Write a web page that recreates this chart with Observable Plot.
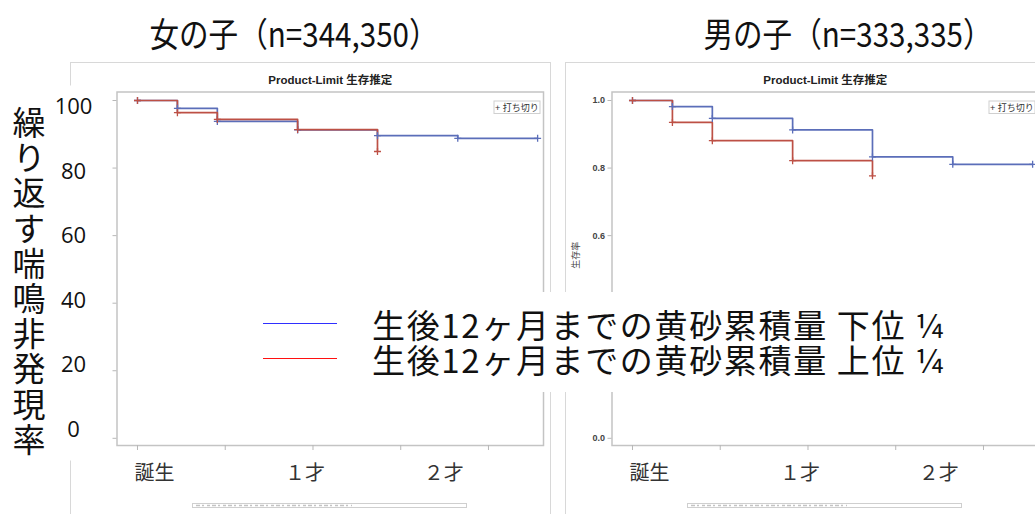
<!DOCTYPE html>
<html><head><meta charset="utf-8">
<script src="https://cdn.jsdelivr.net/npm/d3@7"></script>
<script src="https://cdn.jsdelivr.net/npm/@observablehq/plot@0.6"></script>
<style>
body{margin:0;background:#fff;}
#root{position:relative;width:1035px;height:514px;overflow:hidden;background:#fff;font-family:"Noto Sans CJK JP",sans-serif;}
#root > *{position:absolute;}
.title{font-size:34px;line-height:34px;color:#111;text-align:center;white-space:nowrap;transform:scaleX(0.87);transform-origin:center;}
.legtext{position:absolute;display:block;height:34px;font-size:33px;line-height:34px;color:#111;white-space:nowrap;}
.ytitle{writing-mode:vertical-rl;font-size:33px;line-height:40px;width:40px;letter-spacing:2.2px;color:#111;white-space:nowrap;}
</style></head><body><div id="root"></div>
<script>
// ---- data ----
const days = [0, 91, 182, 365, 547, 730, 912];
const girlsLow  = [1.000, 0.977, 0.938, 0.913, 0.896, 0.888, 0.888];
const girlsHigh = [1.000, 0.964, 0.944, 0.914, 0.849];
const boysLow   = [1.000, 0.982, 0.947, 0.913, 0.833, 0.811, 0.811];
const boysHigh  = [1.000, 0.935, 0.881, 0.822, 0.777];
const panelTitles = ["女の子（n=344,350）", "男の子（n=333,335）"];
const seriesNames = ["生後12ヶ月までの黄砂累積量 下位 ¼", "生後12ヶ月までの黄砂累積量 上位 ¼"];
const seriesKeys = ["low", "high"];
const sasTitle = "Product-Limit 生存推定";
const sasYLabel = "生存率";
const censorLabel = "+ 打ち切り";
const xTickDays = [0, 200, 400, 600, 800];
const sasYTicks = [0, 0.2, 0.4, 0.6, 0.8, 1.0];
const sasYLabelsVisible = [0, 0.6, 0.8, 1.0];   // the others are hidden under the slide overlays
const ageLabels = ["誕生", "１才", "２才"];
const ageLabelDays = [39, 382, 698];
const pctTicks = [0, 20, 40, 60, 80, 100];
const yTitle = "繰り返す喘鳴非発現率";

const sasColors = ["#5b6eb9", "#bd5045"];
const legendColors = ["#2f2fff", "#ff1010"];

const root = document.getElementById("root");

const plusSymbol = {
  draw(ctx) {
    const r = 3.5;
    ctx.moveTo(-r, 0); ctx.lineTo(r, 0);
    ctx.moveTo(0, -r); ctx.lineTo(0, r);
  }
};

function sasPanel(low, high, showLabels) {
  const rows = [];
  low.forEach((v, i) => rows.push({group: "low", t: days[i], s: v}));
  high.forEach((v, i) => rows.push({group: "high", t: days[i], s: v}));
  const W = 560, H = 514, mL = 116.5, mR = 17, mT = 91.5, mB = 69;
  const marks = [
    Plot.frame({stroke: "#c4c4c4", strokeWidth: 1.5}),
    Plot.axisX({ticks: xTickDays, tickSize: 5, tickFormat: () => "", stroke: "#b8b8b8", label: null}),
    Plot.axisY({ticks: sasYTicks, tickSize: 4, tickFormat: () => "", stroke: "#b8b8b8", label: null}),
    Plot.line(rows, {x: "t", y: "s", z: "group", stroke: "group", curve: "step-after", strokeWidth: 1.7}),
    Plot.dot(rows, {x: "t", y: "s", symbol: plusSymbol, stroke: "group", fill: "none", strokeWidth: 1.3}),
    Plot.text([sasTitle], {frameAnchor: "top", dy: -11.5, lineAnchor: "middle", fontSize: 11.5, fontWeight: "bold", fill: "#222"}),
    Plot.text(ageLabels, {x: (d, i) => ageLabelDays[i], text: d => d, frameAnchor: "bottom", dy: 28.5,
      lineAnchor: "middle", fontSize: 20, fill: "#333", fontFamily: "'Noto Sans CJK JP'"})
  ];
  if (showLabels) {
    marks.push(
      Plot.text(sasYLabelsVisible, {y: d => d, text: d => d3.format(".1f")(d), frameAnchor: "left", dx: -7,
        textAnchor: "end", fontSize: 9, fontWeight: "bold", fill: "#444"}),
      Plot.text([sasYLabel], {frameAnchor: "left", dx: -36, rotate: -90, fontSize: 9, fill: "#444"})
    );
  }
  const plot = Plot.plot({
    width: W, height: H,
    marginLeft: mL, marginRight: mR, marginTop: mT, marginBottom: mB,
    style: {background: "transparent", fontFamily: "'Liberation Sans','Noto Sans CJK JP',sans-serif"},
    x: {domain: [-46.7, 925.4], axis: null},
    y: {domain: [-0.0213, 1.0252], axis: null},
    color: {domain: seriesKeys, range: sasColors},
    marks
  });
  const svg = d3.select(plot);
  svg.insert("rect", ":first-child")
    .attr("x", 70.5).attr("y", 62.5).attr("width", 480).attr("height", 520)
    .attr("fill", "none").attr("stroke", "#d8d8d8");
  const g = svg.append("g").attr("transform", `translate(${W - mR - 49},${mT + 9.5})`);
  g.append("rect").attr("width", 46).attr("height", 12.5).attr("fill", "white").attr("stroke", "#d0d0d0");
  g.append("text").attr("x", 23).attr("y", 6.5).attr("dy", "0.35em").attr("text-anchor", "middle")
    .attr("font-size", 9).attr("fill", "#333").text(censorLabel);
  svg.append("rect").attr("x", 192.5).attr("y", 503.5).attr("width", 274).attr("height", 4)
    .attr("fill", "none").attr("stroke", "#cfcfcf");
  svg.append("line").attr("x1", 196).attr("x2", 352).attr("y1", 505.5).attr("y2", 505.5)
    .attr("stroke", "#c4c4c4").attr("stroke-width", 1.5).attr("stroke-dasharray", "4 2 2 3 3 2");
  return plot;
}

const left = sasPanel(girlsLow, girlsHigh, false);
left.style.left = "0px"; left.style.top = "0px";
root.appendChild(left);
const right = sasPanel(boysLow, boysHigh, true);
right.style.left = "495px"; right.style.top = "0px";
root.appendChild(right);

// overlay y-axis column (slide's own percent labels)
const col = Plot.plot({
  width: 111, height: 514, marginTop: 85, marginBottom: 54, marginLeft: 0, marginRight: 0,
  style: {background: "transparent"},
  y: {domain: [0, 100], range: [429, 106.5], axis: null},
  marks: [
    Plot.frame({fill: "white", stroke: "none"}),
    Plot.text(pctTicks, {y: d => d, text: d => String(d), frameAnchor: "left", dx: 73, textAnchor: "middle",
      fontSize: 22, fontFamily: "'Open Sans'", fill: "#111"})
  ]
});
col.style.left = "0px"; col.style.top = "0px";
root.appendChild(col);

// vertical y title
const yt = document.createElement("div");
yt.className = "ytitle";
yt.textContent = yTitle;
yt.style.left = "9px";
yt.style.top = "106px";
root.appendChild(yt);

// titles
const titleCenters = [294, 848];
panelTitles.forEach((t, i) => {
  const d = document.createElement("div");
  d.className = "title";
  d.textContent = t;
  d.style.left = (titleCenters[i] - 200) + "px";
  d.style.width = "400px";
  d.style.top = "16px";
  root.appendChild(d);
});

// legend overlay
const leg = document.createElement("div");
leg.style.left = "240px"; leg.style.top = "292px"; leg.style.width = "725px"; leg.style.height = "100px";
leg.style.background = "white";
root.appendChild(leg);
const rowCenters = [31.5, 66.5];
seriesNames.forEach((name, i) => {
  const ln = document.createElement("div");
  ln.style.position = "absolute";
  ln.style.left = "23px"; ln.style.width = "74px";
  ln.style.top = (rowCenters[i] - 0.75) + "px"; ln.style.height = "1.6px";
  ln.style.background = legendColors[i];
  leg.appendChild(ln);
  const tx = document.createElement("div");
  tx.className = "legtext";
  tx.textContent = name;
  tx.style.left = "132px";
  tx.style.top = (rowCenters[i] - 17) + "px";
  leg.appendChild(tx);
  const w = tx.getBoundingClientRect().width;
  const target = 572;
  const n = [...name].length;
  tx.style.letterSpacing = Math.max(0, (target - w) / (n - 1)) + "px";
});
</script></body></html>
